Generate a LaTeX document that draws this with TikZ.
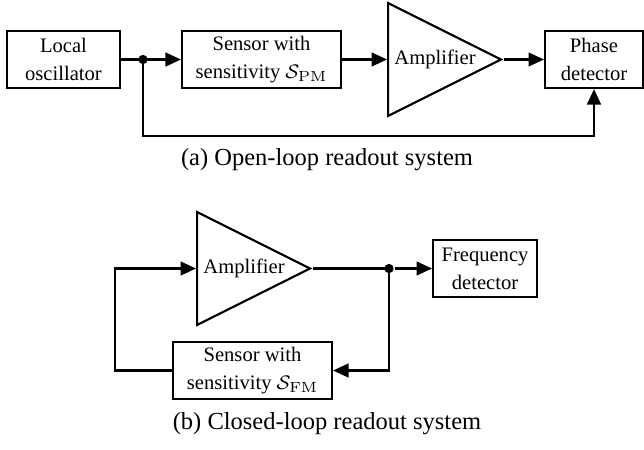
\documentclass[tikz,border=0pt]{standalone}
\usepackage{amsmath}
\usepackage{amssymb}
\usepackage{xcolor}
\usepackage[no-math]{fontspec}
\setmainfont{Liberation Serif}
\usetikzlibrary{arrows.meta,shapes.geometric}

\begin{document}
\begin{tikzpicture}[x=0.408pt,y=-0.408pt,line width=0.85pt,
	block/.style={draw,fill=white,align=center,inner sep=0pt,minimum height=23.3pt,font=\fontsize{8.4}{11.4}\selectfont},
	amp/.style={draw,isosceles triangle,isosceles triangle stretches,inner sep=0pt,minimum width=46.1pt,minimum height=46.1pt,anchor=west},
	ampname/.style={font=\fontsize{8.4}{11.4}\selectfont},
	dot/.style={circle,fill=black,inner sep=0pt,minimum size=3.8pt},
	sig/.style={-{Triangle[length=6.3pt,width=5.6pt]}},
	caption/.style={font=\fontsize{10}{12}\selectfont}]
	\useasboundingbox (0,0) rectangle (644,449);
	
	\coordinate (o1) at (63.5,59.5);
	\coordinate (o2) at (143,59.5);
	\coordinate (o3) at (261.5,59.5);
	\coordinate (o4) at (387,59.5);
	\coordinate (o5) at (435,59.5);
	\coordinate (o6) at (594,59.5);
	\coordinate (c1) at (327,160);
	\coordinate (f1) at (196,268.5);
	\coordinate (f2) at (244,268.5);
	\coordinate (f3) at (389,268.5);
	\coordinate (f4) at (485,268.5);
	\coordinate (f5) at (252.5,370.5);
	\coordinate (c2) at (327,424);
	
	\node (osc) at (o1) [block,minimum width=46.1pt] {Local\\oscillator};
	\node (jopen) at (o2) [dot] {};
	\node (spm) at (o3) [block,minimum width=64.9pt] {Sensor with\\sensitivity $\mathcal{S}_{\mathrm{PM}}$};
	\node (ampopen) at (o4) [amp] {};
	\node (ampopentext) at (o5) [ampname] {Amplifier};
	\node (phase) at (o6) [block,minimum width=40pt] {Phase\\detector};
	\node (capopen) at (c1) [caption] {(a) Open-loop readout system};
	
	\draw[sig] (osc) -- (spm);
	\draw[sig] (spm) -- (ampopen.west);
	\draw[sig] (ampopen.apex) -- (phase);
	\draw[sig] (jopen.center) -- ++(0,76.5) -| (phase.south);
	
	\node (ampclosed) at (f1) [amp] {};
	\node (ampclosedtext) at (f2) [ampname] {Amplifier};
	\node (jclosed) at (f3) [dot] {};
	\node (freq) at (f4) [block,minimum width=42.4pt] {Frequency\\detector};
	\node (sfm) at (f5) [block,minimum width=64.9pt] {Sensor with\\sensitivity $\mathcal{S}_{\mathrm{FM}}$};
	\node (capclosed) at (c2) [caption] {(b) Closed-loop readout system};
	
	\draw (ampclosed.apex) -- (jclosed.center);
	\draw[sig] (jclosed) -- (freq);
	\draw[sig] (jclosed.center) |- (sfm.east);
	\draw[sig] (sfm.west) -- ++(-57,0) |- (ampclosed.west);
\end{tikzpicture}
\end{document}
